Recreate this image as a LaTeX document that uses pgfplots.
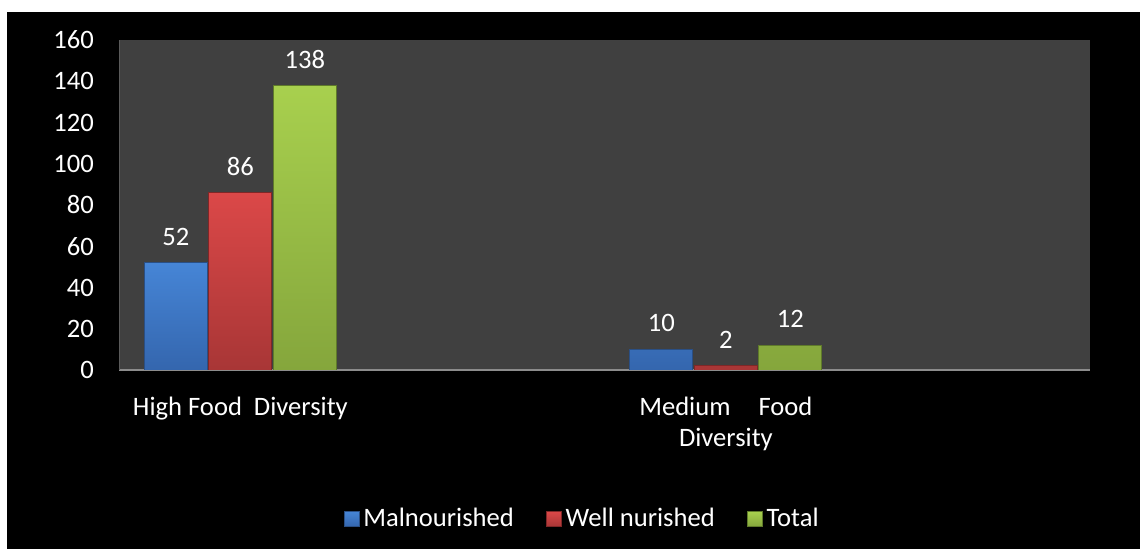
\documentclass[border=0pt]{standalone}
\usepackage{fontspec}
\setmainfont{Carlito}
\usepackage{pgfplots}
\pgfplotsset{compat=1.18}
\definecolor{plotbg}{HTML}{404040}
\definecolor{xline}{HTML}{8C8C8C}
\definecolor{yline}{HTML}{5A5A5A}
\definecolor{bluetop}{HTML}{4685D6}
\definecolor{bluebot}{HTML}{3466AE}
\definecolor{bluedraw}{HTML}{2A4F85}
\definecolor{redtop}{HTML}{DB4848}
\definecolor{redbot}{HTML}{A83636}
\definecolor{reddraw}{HTML}{7F2727}
\definecolor{greentop}{HTML}{A8D04E}
\definecolor{greenbot}{HTML}{85A63C}
\definecolor{greendraw}{HTML}{5F7A2A}
\begin{document}
\fontsize{13.3}{15.5}\selectfont
\begin{tikzpicture}[font=\fontsize{13.3}{15.5}\selectfont]
\fill[white] (0,0) rectangle (570pt,274.5pt);
\fill[black] (3.5pt,0) rectangle (570pt,268.5pt);
\begin{axis}[
  at={(59.5pt,89.5pt)}, anchor=south west,
  scale only axis, width=485.5pt, height=165pt,
  xmin=-0.5, xmax=3.5, ymin=0, ymax=160,
  enlargelimits=false,
  ytick={0,20,...,160},
  xtick={0,2},
  xticklabels={{High Food\ \ Diversity},{Medium\hspace{14pt}Food\\Diversity}},
  xticklabel style={align=center, text=white, yshift=-9pt},
  yticklabel style={text=white, xshift=-8pt},
  /pgf/number format/assume math mode=true,
  major tick length=0pt,
  axis background/.style={fill=plotbg},
  axis x line*=bottom,
  axis y line*=left,
  x axis line style={draw=xline, line width=1pt, -},
  y axis line style={draw=yline, line width=0.5pt, -},
  ybar=0.75pt,
  bar width=31.5pt,
  nodes near coords,
  every node near coord/.append style={text=white, anchor=center, yshift=13pt},
  legend style={at={(0.478,-0.4515)}, anchor=center, legend columns=3,
    draw=none, fill=none, text=white,
    /tikz/every even column/.append style={column sep=14pt}},
  legend image code/.code={\draw[#1] (-2pt,-3.75pt) rectangle (5.5pt,3.75pt);},
]
\addplot[draw=bluedraw, top color=bluetop, bottom color=bluebot] coordinates {(0,52) (2,10)};
\addplot[draw=reddraw, top color=redtop, bottom color=redbot] coordinates {(0,86) (2,2)};
\addplot[draw=greendraw, top color=greentop, bottom color=greenbot] coordinates {(0,138) (2,12)};
\legend{Malnourished, Well nurished, Total}
\end{axis}
\end{tikzpicture}
\end{document}
